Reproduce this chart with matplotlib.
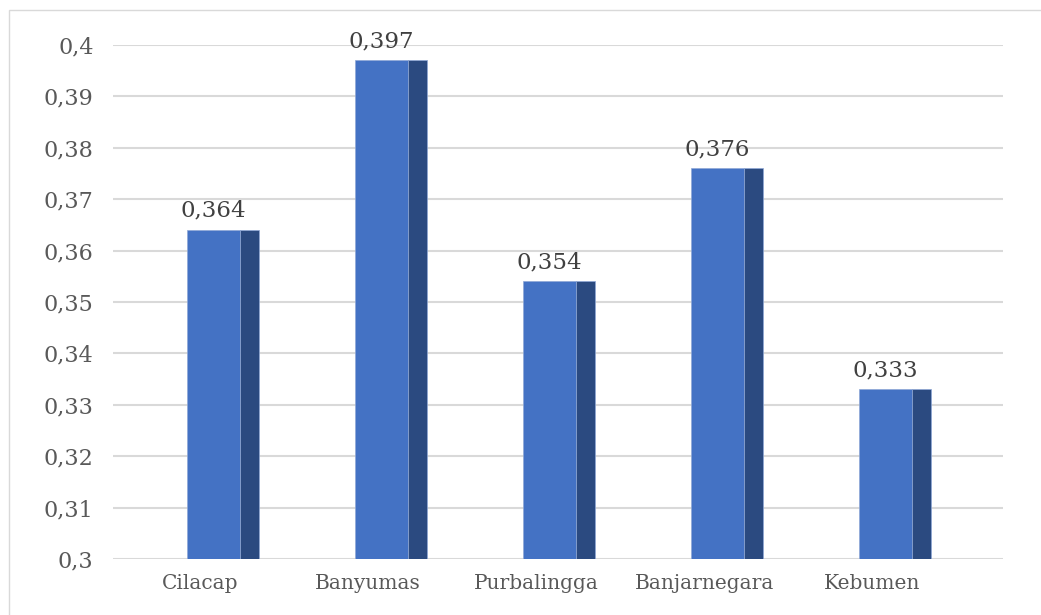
import matplotlib.pyplot as plt
from matplotlib.patches import Rectangle

categories = ["Cilacap", "Banyumas", "Purbalingga", "Banjarnegara", "Kebumen"]
values = [0.364, 0.397, 0.354, 0.376, 0.333]
yticks = [0.30, 0.31, 0.32, 0.33, 0.34, 0.35, 0.36, 0.37, 0.38, 0.39, 0.40]

front_color = "#4472C4"
side_color = "#2B4A80"
grid_color = "#D9D9D9"
text_color = "#595959"
base = 0.3

plt.rcParams["font.family"] = ["DejaVu Serif"]

fig = plt.figure(figsize=(10.41, 6.15), dpi=100)
fig.patches.append(Rectangle((9 / 1041, -0.1), 1.2, 1.1 - 10 / 615,
                             transform=fig.transFigure, fill=False,
                             edgecolor="#D9D9D9", linewidth=1.0))

ax = fig.add_axes([113 / 1041, 1 - 559 / 615, 890 / 1041, 514 / 615])

x = list(range(len(categories)))
heights = [v - base for v in values]

# front face and darker side face to fake the 3D column look
ax.bar([i + 0.08 for i in x], heights, bottom=base, width=0.315,
       color=front_color, edgecolor="#8FA8D6", linewidth=0.5, zorder=3)
ax.bar([i + 0.295 for i in x], heights, bottom=base, width=0.113,
       color=side_color, edgecolor="#8FA8D6", linewidth=0.5, zorder=3)

for i, v in zip(x, values):
    ax.annotate(f"{v:.3f}".replace(".", ","), (i + 0.08, v),
                xytext=(0, 6), textcoords="offset points",
                ha="center", va="bottom", fontsize=16.5,
                color="#404040", clip_on=False, zorder=4)

ax.set_xlim(-0.52, 4.78)
ax.set_ylim(0.3, 0.4)
ax.set_yticks(yticks)
ax.set_yticklabels([f"{t:.2f}".rstrip("0").replace(".", ",") for t in yticks],
                   fontsize=16, color=text_color)
ax.set_xticks(x)
ax.set_xticklabels(categories, fontsize=14.5, color=text_color)
ax.tick_params(axis="both", length=0)
ax.tick_params(axis="y", pad=14)
ax.tick_params(axis="x", pad=11)

ax.grid(axis="y", color=grid_color, linewidth=1.5, zorder=0)
ax.set_axisbelow(True)
for s in ax.spines.values():
    s.set_visible(False)

fig.savefig("out.png", dpi=100)
